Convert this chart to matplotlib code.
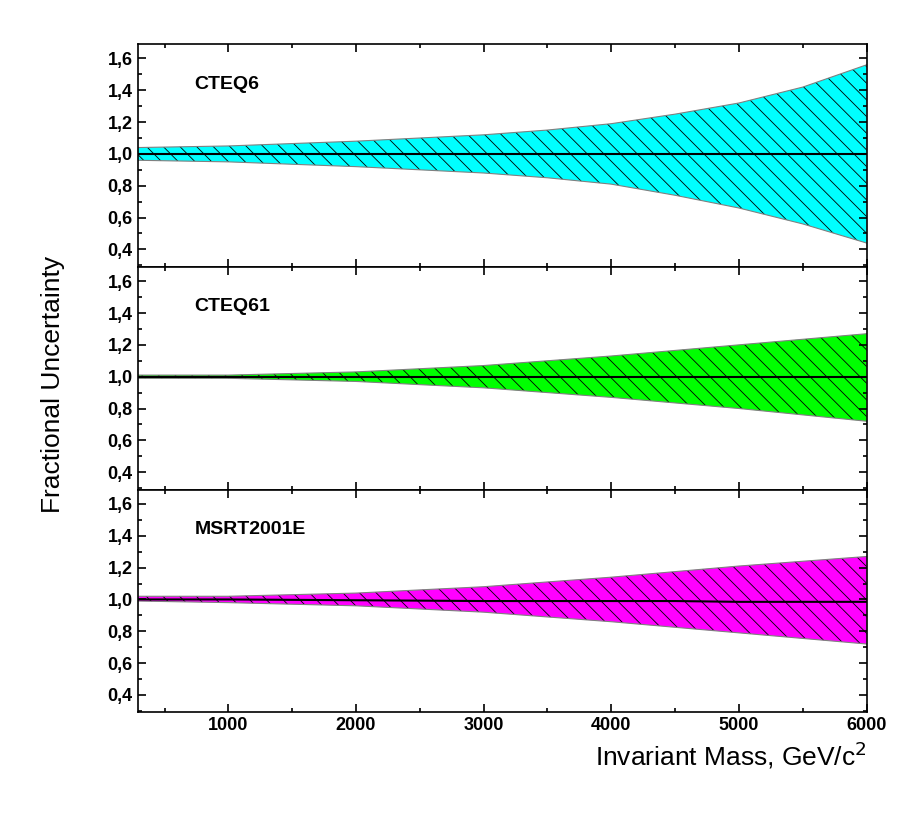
import matplotlib.pyplot as plt
import matplotlib as mpl
from matplotlib.ticker import FuncFormatter, MultipleLocator

mpl.rcParams['hatch.linewidth'] = 0.6
mpl.rcParams['font.family'] = ['Liberation Sans', 'DejaVu Sans']

mass = [290, 1000, 2000, 3000, 3500, 4000, 4500, 5000, 5500, 6000]

cteq6_up = [1.04, 1.05, 1.08, 1.12, 1.15, 1.19, 1.25, 1.32, 1.42, 1.56]
cteq6_lo = [0.96, 0.95, 0.92, 0.88, 0.85, 0.81, 0.74, 0.66, 0.56, 0.44]
cteq61_up = [1.01, 1.01, 1.03, 1.07, 1.10, 1.13, 1.165, 1.20, 1.235, 1.27]
cteq61_lo = [0.99, 0.99, 0.97, 0.93, 0.90, 0.87, 0.835, 0.80, 0.76, 0.72]
msrt_up = [1.02, 1.02, 1.04, 1.08, 1.11, 1.14, 1.175, 1.21, 1.24, 1.27]
msrt_lo = [0.99, 0.98, 0.96, 0.92, 0.89, 0.86, 0.825, 0.79, 0.755, 0.72]
msrt_mid = [1.0, 1.0, 0.995, 0.99, 0.99, 0.99, 0.99, 0.985, 0.985, 0.985]
flat = [1.0] * len(mass)

panels = [("CTEQ6", cteq6_up, cteq6_lo, flat, "#00ffff"),
          ("CTEQ61", cteq61_up, cteq61_lo, flat, "#00ff00"),
          ("MSRT2001E", msrt_up, msrt_lo, msrt_mid, "#ff00ff")]

fig = plt.figure(figsize=(9.18, 8.17), dpi=100)
axes = fig.subplots(3, 1, sharex=True)
fig.subplots_adjust(left=0.150, right=0.944, top=0.946, bottom=0.128, hspace=0)

comma = FuncFormatter(lambda v, p: f"{v:.1f}".replace(".", ","))

for ax, (name, up, lo, mid, col) in zip(axes, panels):
    ax.fill_between(mass, lo, up, facecolor=col, edgecolor="black", hatch="\\\\", linewidth=0)
    ax.plot(mass, up, color="gray", lw=0.8)
    ax.plot(mass, lo, color="gray", lw=0.8)
    ax.plot(mass, mid, color="black", lw=1.5)
    ax.set_xlim(290, 6000)
    ax.set_ylim(0.29, 1.69)
    ax.yaxis.set_minor_locator(MultipleLocator(0.1))
    ax.xaxis.set_major_locator(MultipleLocator(1000))
    ax.xaxis.set_minor_locator(MultipleLocator(500))
    ax.set_yticks([0.4, 0.6, 0.8, 1.0, 1.2, 1.4, 1.6])
    ax.yaxis.set_major_formatter(comma)
    ax.tick_params(which="both", direction="in", top=True, right=True, width=1.2)
    ax.tick_params(which="major", length=6, labelsize=13)
    ax.tick_params(which="minor", length=3)
    for lab in ax.get_yticklabels() + ax.get_xticklabels():
        lab.set_fontweight("bold")
    for s in ax.spines.values():
        s.set_linewidth(1.2)
    ax.text(0.078, 0.8, name, transform=ax.transAxes, fontsize=14, fontweight="bold")

fig.text(0.045, 0.53, "Fractional Uncertainty", rotation=90, va="center", fontsize=19)
axes[2].set_xlabel("Invariant Mass, GeV/c$^2$", fontsize=19, loc="right")
plt.savefig("out.png")
